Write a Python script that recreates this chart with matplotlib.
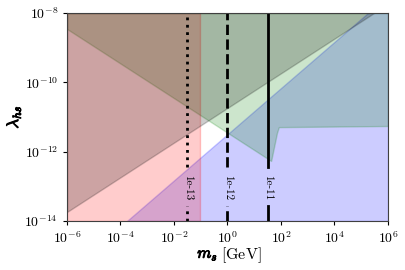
import matplotlib
matplotlib.use("Agg")
import matplotlib.pyplot as plt
import matplotlib.patheffects as pe
import numpy as np

plt.rcParams['mathtext.fontset'] = 'cm'

# ---- data ----
x_range = [1e-6, 1e6]
y_range = [1e-14, 1e-8]

# red region (m_s below cut, all couplings)
red_m = [1e-6, 0.093]

# grey region: above a rising line
grey_m = [1e-6, 3.0e5]
grey_lam = [1.82e-14, 1e-8]

# green region: above a falling line, then flattening
green_m = [1e-6, 42.7, 70.8, 83.0, 1e6]
green_lam = [3.47e-9, 5.4e-13, 3.5e-12, 5.1e-12, 5.5e-12]

# blue region: right of a rising line
blue_m = [1.74e-4, 1.78e5, 1e6]
blue_lam = [1e-14, 1e-8, 1e-8]

# contour-like vertical lines
line_m = [0.0316, 1.0, 31.6]
line_labels = ["1e-13", "1e-12", "1e-11"]
line_styles = [":", "--", "-"]
label_lam = 9.3e-14
gap_lo, gap_hi = 2.75e-14, 3.6e-13

xtick_exp = [-6, -4, -2, 0, 2, 4, 6]
ytick_exp = [-14, -12, -10, -8]

fig = plt.figure(figsize=(4.06, 2.70), dpi=100)
ax = fig.add_axes([67/406, 1-221/270, 321/406, 208/270])

ax.fill_between(blue_m, y_range[0], blue_lam, color='blue', alpha=0.2)
ax.fill_between(green_m, green_lam, y_range[1], color='green', alpha=0.2)
ax.fill_between(red_m, y_range[0], y_range[1], color='red', alpha=0.2)
ax.fill_between(grey_m, grey_lam, y_range[1], color='black', alpha=0.2)

for m, lab, ls in zip(line_m, line_labels, line_styles):
    ax.plot([m, m], [y_range[0], gap_lo], color='black', ls=ls, lw=2)
    ax.plot([m, m], [gap_hi, y_range[1]], color='black', ls=ls, lw=2)
    ax.text(m, label_lam, lab, rotation=270, ha='center', va='center',
            fontsize=8, family='cmr10')

ax.set_xscale('log')
ax.set_yscale('log')
ax.set_xlim(x_range)
ax.set_ylim(y_range)
ax.set_xticks([10.0**e for e in xtick_exp])
ax.set_xticklabels([rf"$10^{{{e}}}$" for e in xtick_exp])
ax.set_yticks([10.0**e for e in ytick_exp])
ax.set_yticklabels([rf"$10^{{{e}}}$" for e in ytick_exp])
ax.xaxis.set_minor_locator(matplotlib.ticker.NullLocator())
ax.yaxis.set_minor_locator(matplotlib.ticker.NullLocator())
ax.tick_params(labelsize=10, length=3)
for s in ax.spines.values():
    s.set_color('0.25')

bold = [pe.withStroke(linewidth=0.7, foreground='black')]
fig.text(218/406, 1-255/270, r"$m_s$", fontsize=11.5, ha='right', va='center',
         path_effects=bold)
fig.text(221/406, 1-255/270, r"$\mathrm{[GeV]}$", fontsize=11.5, ha='left',
         va='center')
fig.text(13/406, 1-117/270, r"$\lambda_{hs}$", fontsize=12, ha='center',
         va='center', rotation=90, path_effects=bold)

fig.savefig("out.png", dpi=100)
